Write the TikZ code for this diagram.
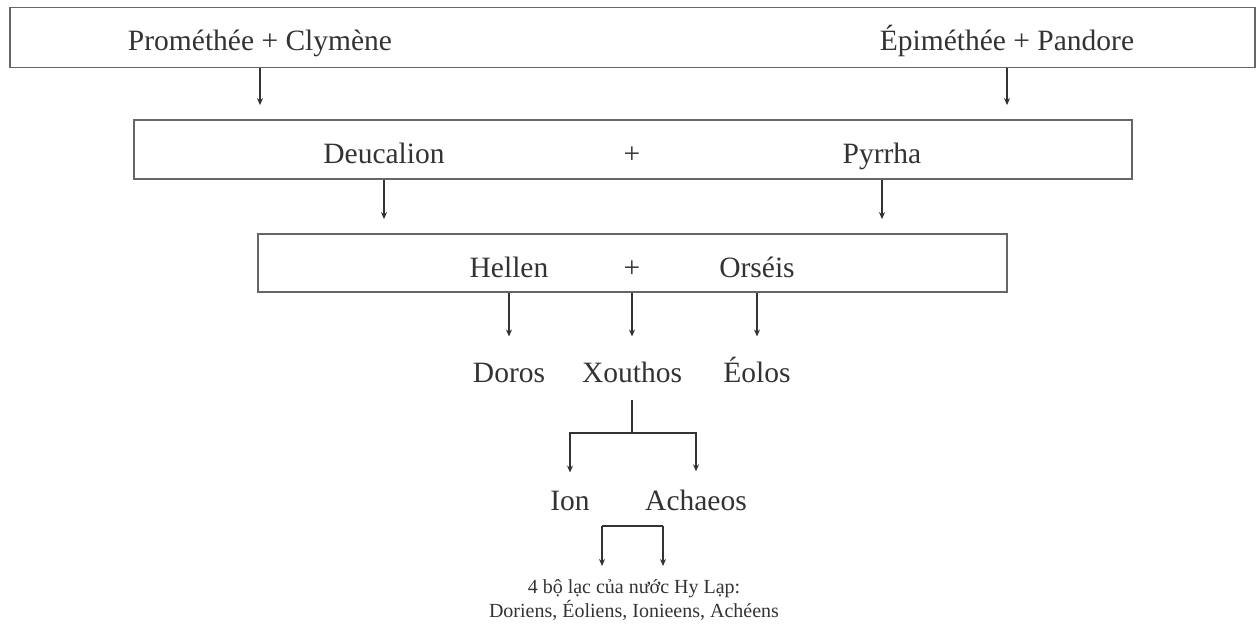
\documentclass[tikz,border=0pt]{standalone}
\usepackage{fontspec}
\setmainfont{Liberation Serif}
\usetikzlibrary{arrows.meta}
\definecolor{boxline}{HTML}{666666}
\definecolor{ink}{HTML}{333333}
\tikzset{
  x=1pt, y=-1pt,
  famBox/.style={draw=boxline, line width=1.8pt, rectangle, inner sep=0pt},
  famName/.style={font=\fontsize{29.5}{32}\selectfont, text=ink, anchor=base, inner sep=0pt},
  famSmall/.style={font=\fontsize{20}{24.5}\selectfont, text=ink, align=center, inner sep=0pt},
  arr/.style={draw=ink, line width=1.1pt, -{Stealth[length=7pt,width=6pt]}},
  link/.style={draw=ink, line width=1.1pt},
}
\begin{document}
\begin{tikzpicture}
\useasboundingbox (0,0) rectangle (1258,630);
% boxes
\node[famBox, minimum width=1245pt, minimum height=60pt] (b1) at (632.5,37.5) {};
\node[famBox, minimum width=998pt, minimum height=59pt] (b2) at (633,149.5) {};
\node[famBox, minimum width=749pt, minimum height=58pt] (b3) at (632.5,263) {};
% texts
\node[famName] (prom) at (260,50) {Prométhée + Clymène};
\node[famName] (epim) at (1007,50) {Épiméthée + Pandore};
\node[famName] (deuc) at (384,163) {Deucalion};
\node[famName] (plus1) at (632,163) {+};
\node[famName] (pyrr) at (882,163) {Pyrrha};
\node[famName] (hell) at (509,277) {Hellen};
\node[famName] (plus2) at (632,277) {+};
\node[famName] (orse) at (757,277) {Orséis};
\node[famName] (doro) at (509,382) {Doros};
\node[famName] (xout) at (632,382) {Xouthos};
\node[famName] (eolo) at (757,382) {Éolos};
\node[famName] (ion) at (570,510) {Ion};
\node[famName] (acha) at (696,510) {Achaeos};
\node[famSmall, anchor=north] (trib) at (634,579) {4 bộ lạc của nước Hy Lạp:\\Doriens, Éoliens, Ionieens, Achéens};
% level 1 -> 2
\draw[arr, shorten >=14pt] (b1.south -| prom) -- (b2.north -| prom);
\draw[arr, shorten >=14pt] (b1.south -| epim) -- (b2.north -| epim);
% level 2 -> 3
\draw[arr, shorten >=14pt] (b2.south -| deuc) -- (b3.north -| deuc);
\draw[arr, shorten >=14pt] (b2.south -| pyrr) -- (b3.north -| pyrr);
% level 3 -> children
\draw[arr, shorten >=26pt] (b3.south -| doro) -- (doro.north);
\draw[arr, shorten >=26pt] (b3.south -| xout) -- (xout |- doro.north);
\draw[arr, shorten >=26pt] (b3.south -| eolo) -- (eolo |- doro.north);
% Xouthos -> Ion, Achaeos
\coordinate (xs) at (632,400);
\coordinate (xj) at (632,433);
\draw[link] (xs) -- (xj);
\draw[arr, shorten >=18pt] (xj) -| (ion.north);
\draw[arr, shorten >=18pt] (xj) -| (acha.north);
% bracket -> tribes
\coordinate (bl) at (602,526);
\coordinate (br) at (663,526);
\draw[link] (bl) -- (br);
\draw[arr] (bl) -- (602,566);
\draw[arr] (br) -- (663,566);
\end{tikzpicture}
\end{document}
